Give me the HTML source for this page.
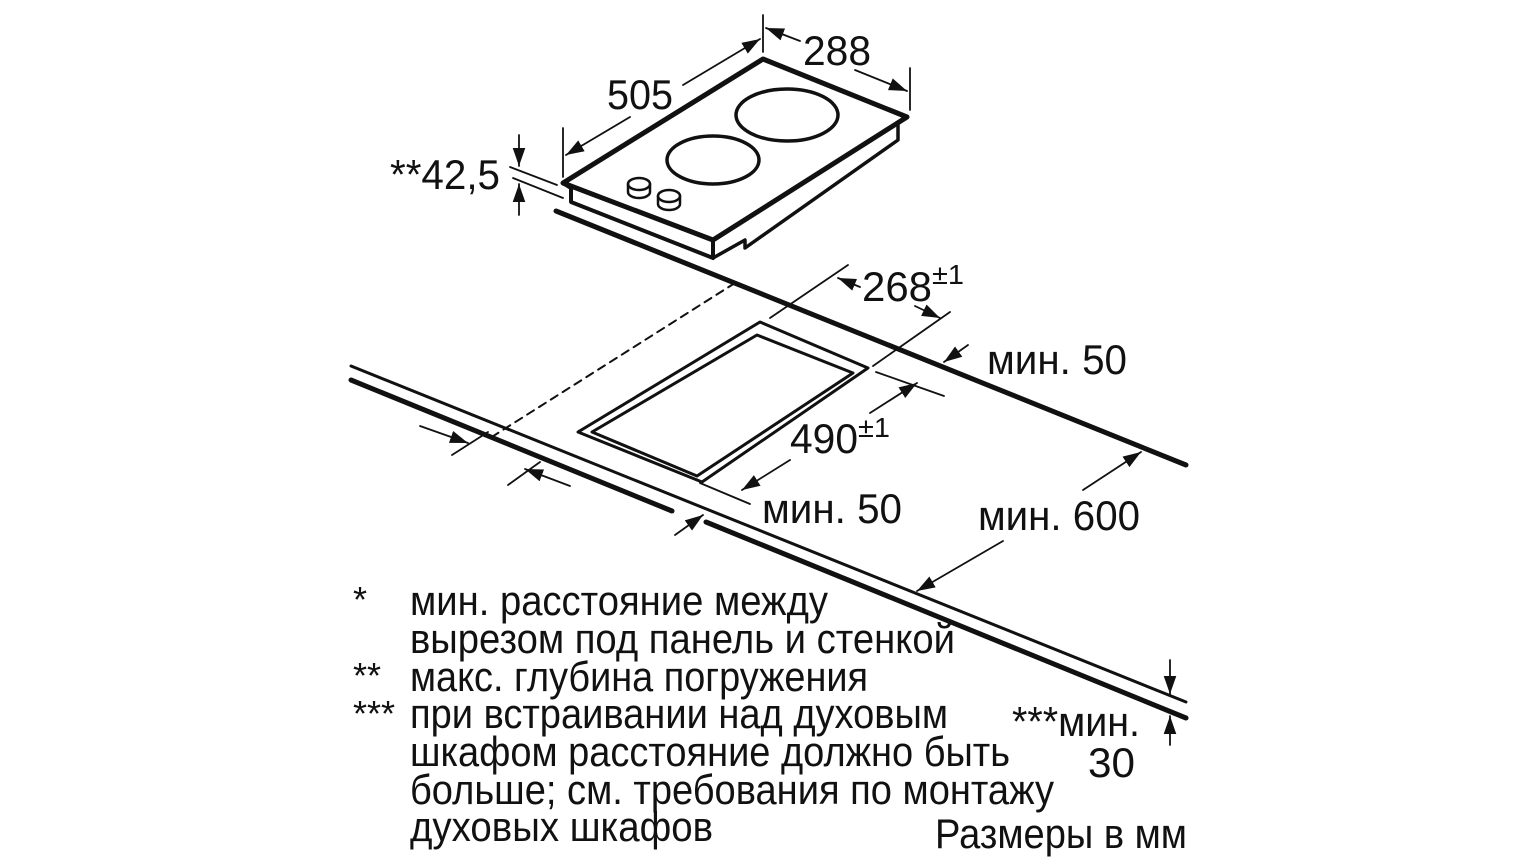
<!DOCTYPE html>
<html><head><meta charset="utf-8"><style>
html,body{margin:0;padding:0;background:#fff;}
svg{display:block}
text{font-family:"Liberation Sans Narrow","Liberation Sans",sans-serif;fill:#111;}
</style></head><body>
<svg width="1536" height="864" viewBox="0 0 1536 864" xmlns="http://www.w3.org/2000/svg">
<defs>
<marker id="a" viewBox="0 0 10 10" refX="10" refY="5" markerWidth="18" markerHeight="18" markerUnits="userSpaceOnUse" orient="auto"><path d="M0,1.5 L10,5 L0,8.5 z" fill="#111"/></marker>
</defs>
<g stroke="#111" fill="none" stroke-linecap="round" stroke-linejoin="round">
<path d="M563,183 L763,59 L907,117 L713,240 Z" stroke-width="5"/>
<path d="M563,183 L571,188 L571,202 L713,258 L713,240" stroke-width="4"/>
<path d="M713,258 L745,240 L745,248 L898,140 L898,122" stroke-width="3.5"/>
<ellipse cx="787" cy="115" rx="51" ry="26" stroke-width="3.5"/>
<ellipse cx="713" cy="160" rx="46" ry="24" stroke-width="3.5"/>
<g stroke-width="2.5">
<ellipse cx="639" cy="184" rx="11" ry="6"/><path d="M628,184 v8 a11,6 0 0 0 22,0 v-8"/>
<ellipse cx="669" cy="196" rx="11" ry="6"/><path d="M658,196 v8 a11,6 0 0 0 22,0 v-8"/>
</g>
<path d="M556,211 L1186,465" stroke-width="5"/>
<path d="M351,366 L1186,702" stroke-width="3"/>
<path d="M351,380 L672,511" stroke-width="5"/>
<path d="M706,522 L1186,718" stroke-width="5"/>
<path d="M760,322 L868,368 L702,482 L578,432 Z" stroke-width="3"/>
<path d="M757,335 L853,373 L697,476 L592,432 Z" stroke-width="3"/>
<path d="M735,283 L487,440" stroke-width="2" stroke-dasharray="8,6"/>
<g stroke-width="1.8">
<path d="M763,15 L763,52"/><path d="M910,68 L910,110"/><path d="M563,128 L563,177"/>
<path d="M510,167 L557,185"/><path d="M513,178 L563,198"/>
<path d="M848,265 L770,318"/><path d="M950,312 L873,366"/>
<path d="M876,372 L944,396"/><path d="M700,483 L750,504"/>
<path d="M452,455 L488,432"/><path d="M508,485 L540,462"/>
</g>
<g stroke-width="1.8">
<line x1="683" y1="85" x2="760" y2="39" marker-end="url(#a)"/>
<line x1="630" y1="117" x2="566" y2="155" marker-end="url(#a)"/>
<line x1="800" y1="41" x2="766" y2="28" marker-end="url(#a)"/>
<line x1="855" y1="70" x2="907" y2="91" marker-end="url(#a)"/>
<line x1="519" y1="135" x2="519" y2="166" marker-end="url(#a)"/>
<line x1="519" y1="215" x2="519" y2="184" marker-end="url(#a)"/>
<line x1="860" y1="287" x2="838" y2="278" marker-end="url(#a)"/>
<line x1="915" y1="306" x2="940" y2="318" marker-end="url(#a)"/>
<line x1="968" y1="345" x2="944" y2="362" marker-end="url(#a)"/>
<line x1="870" y1="413" x2="917" y2="383" marker-end="url(#a)"/>
<line x1="790" y1="460" x2="742" y2="490" marker-end="url(#a)"/>
<line x1="420" y1="426" x2="468" y2="443" marker-end="url(#a)"/>
<line x1="570" y1="486" x2="525" y2="469" marker-end="url(#a)"/>
<line x1="675" y1="535" x2="703" y2="515" marker-end="url(#a)"/>
<line x1="1083" y1="490" x2="1141" y2="452" marker-end="url(#a)"/>
<line x1="1003" y1="541" x2="917" y2="591" marker-end="url(#a)"/>
<line x1="1170" y1="660" x2="1170" y2="694" marker-end="url(#a)"/>
<line x1="1170" y1="745" x2="1170" y2="716" marker-end="url(#a)"/>
</g>
</g>
<g font-size="42">
<text x="607" y="109" textLength="66" lengthAdjust="spacingAndGlyphs">505</text>
<text x="803" y="65" textLength="68" lengthAdjust="spacingAndGlyphs">288</text>
<text x="390" y="189" textLength="110" lengthAdjust="spacingAndGlyphs">**42,5</text>
<text x="862" y="301" textLength="70" lengthAdjust="spacingAndGlyphs">268</text>
<text x="932" y="284" font-size="28" textLength="32" lengthAdjust="spacingAndGlyphs">±1</text>
<text x="987" y="374" textLength="140" lengthAdjust="spacingAndGlyphs">мин. 50</text>
<text x="790" y="453" textLength="68" lengthAdjust="spacingAndGlyphs">490</text>
<text x="858" y="437" font-size="28" textLength="32" lengthAdjust="spacingAndGlyphs">±1</text>
<text x="762" y="523" textLength="140" lengthAdjust="spacingAndGlyphs">мин. 50</text>
<text x="978" y="530" textLength="162" lengthAdjust="spacingAndGlyphs">мин. 600</text>
<text x="1012" y="736" textLength="128" lengthAdjust="spacingAndGlyphs">***мин.</text>
<text x="1088" y="777" textLength="47" lengthAdjust="spacingAndGlyphs">30</text>
<text x="353" y="612" font-size="36">*</text>
<text x="353" y="688" font-size="36">**</text>
<text x="353" y="726" font-size="36">***</text>
<text x="410" y="615" textLength="418" lengthAdjust="spacingAndGlyphs">мин. расстояние между</text>
<text x="410" y="653" textLength="545" lengthAdjust="spacingAndGlyphs">вырезом под панель и стенкой</text>
<text x="410" y="691" textLength="458" lengthAdjust="spacingAndGlyphs">макс. глубина погружения</text>
<text x="410" y="728" textLength="538" lengthAdjust="spacingAndGlyphs">при встраивании над духовым</text>
<text x="410" y="766" textLength="600" lengthAdjust="spacingAndGlyphs">шкафом расстояние должно быть</text>
<text x="410" y="804" textLength="644" lengthAdjust="spacingAndGlyphs">больше; см. требования по монтажу</text>
<text x="410" y="841" textLength="303" lengthAdjust="spacingAndGlyphs">духовых шкафов</text>
<text x="935" y="848" textLength="252" lengthAdjust="spacingAndGlyphs">Размеры в мм</text>
</g>
</svg>
</body></html>
